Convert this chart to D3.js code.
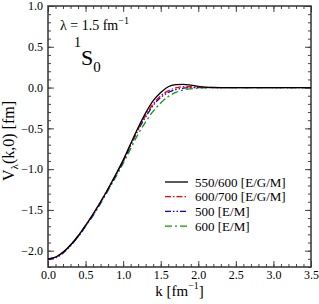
<!DOCTYPE html>
<html>
<head>
<meta charset="utf-8">
<script src="https://cdn.jsdelivr.net/npm/d3@7"></script>
<style>
  body { margin: 0; background: #fff; }
  svg text { font-family: "Liberation Serif", "Times New Roman", "DejaVu Serif", serif; }
</style>
</head>
<body>
<div id="vis"></div>
<script>
const WIDTH = 319;
const HEIGHT = 304;
const MARGIN = {left: 48, right: 8, top: 6, bottom: 37};
const FONT = "Liberation Serif, Times New Roman, DejaVu Serif, serif";

// data
const K = [0.0, 0.1, 0.2, 0.3, 0.4, 0.5, 0.6, 0.7, 0.8, 0.9, 1.0, 1.1, 1.2, 1.3, 1.4,
           1.5, 1.6, 1.7, 1.8, 1.9, 2.0, 2.1, 2.2, 2.3, 2.5, 3.0, 3.5];
const V_550_600 = [-2.10, -2.08, -2.02, -1.93, -1.82, -1.69, -1.55, -1.40, -1.24, -1.07, -0.89,
                   -0.69, -0.49, -0.31, -0.16, -0.06, 0.01, 0.035, 0.04, 0.03, 0.015, 0.006,
                   0.002, 0.0, 0.0, 0.0, 0.0];
const V_600_700 = [-2.10, -2.08, -2.02, -1.93, -1.82, -1.69, -1.55, -1.40, -1.24, -1.07, -0.90,
                   -0.70, -0.51, -0.34, -0.20, -0.10, -0.04, -0.005, 0.01, 0.01, 0.005, 0.002,
                   0.0, 0.0, 0.0, 0.0, 0.0];
const V_500 = [-2.11, -2.09, -2.03, -1.94, -1.83, -1.70, -1.56, -1.41, -1.25, -1.08, -0.91,
               -0.71, -0.52, -0.36, -0.22, -0.12, -0.06, -0.025, -0.008, 0.0, 0.0, 0.0,
               0.0, 0.0, 0.0, 0.0, 0.0];
const V_600 = [-2.10, -2.08, -2.02, -1.93, -1.83, -1.70, -1.57, -1.42, -1.26, -1.10, -0.93,
               -0.75, -0.57, -0.42, -0.29, -0.19, -0.11, -0.06, -0.03, -0.015, -0.006, -0.002,
               0.0, 0.0, 0.0, 0.0, 0.0];

const SERIES = [
  {name: "550/600 [E/G/M]", values: V_550_600, color: "#000000", dash: null},
  {name: "600/700 [E/G/M]", values: V_600_700, color: "#ff0000", dash: "6,2,1.5,2"},
  {name: "500 [E/M]",       values: V_500,     color: "#0000ff", dash: "6,2,1.5,2,1.5,2"},
  {name: "600 [E/M]",       values: V_600,     color: "#00a000", dash: "7,3,2,3"}
];

const X_TICKS = [0.0, 0.5, 1.0, 1.5, 2.0, 2.5, 3.0, 3.5];
const Y_TICKS = [-2.0, -1.5, -1.0, -0.5, 0.0, 0.5, 1.0];

const FRAME = d3.select("#vis")
  .append("svg")
    .attr("width", WIDTH)
    .attr("height", HEIGHT)
    .attr("font-family", FONT);

const X_SCALE = d3.scaleLinear()
  .domain([0, 3.5])
  .range([MARGIN.left, WIDTH - MARGIN.right]);

const Y_SCALE = d3.scaleLinear()
  .domain([-2.2, 1.0])
  .range([HEIGHT - MARGIN.bottom, MARGIN.top]);

const fmt = (d) => d3.format(".1f")(d).replace("-", "\u2212");
const plotW = WIDTH - MARGIN.left - MARGIN.right;
const plotH = HEIGHT - MARGIN.top - MARGIN.bottom;

// minor ticks every 0.1
const xMinor = d3.range(0, 3.501, 0.1);
const yMinor = d3.range(-2.2, 1.001, 0.1);

// axes: ticks pointing inward on all four sides
function addAxis(axis, tx, ty) {
  const g = FRAME.append("g")
    .attr("transform", "translate(" + tx + "," + ty + ")")
    .call(axis)
    .attr("font-family", FONT);
  g.select(".domain").remove();
  g.selectAll("line").attr("stroke", "#444").attr("stroke-width", 1);
  g.selectAll("text")
    .attr("font-family", FONT)
    .attr("font-size", "12px")
    .attr("fill", "#000");
  return g;
}

// bottom
addAxis(d3.axisBottom(X_SCALE).tickValues(xMinor).tickSize(-3).tickFormat(""), 0, HEIGHT - MARGIN.bottom);
addAxis(d3.axisBottom(X_SCALE).tickValues(X_TICKS).tickSize(-6).tickPadding(3).tickFormat(fmt),
        0, HEIGHT - MARGIN.bottom);
// top
addAxis(d3.axisTop(X_SCALE).tickValues(xMinor).tickSize(-3).tickFormat(""), 0, MARGIN.top);
addAxis(d3.axisTop(X_SCALE).tickValues(X_TICKS).tickSize(-6).tickFormat(""), 0, MARGIN.top);
// left
addAxis(d3.axisLeft(Y_SCALE).tickValues(yMinor).tickSize(-3).tickFormat(""), MARGIN.left, 0);
addAxis(d3.axisLeft(Y_SCALE).tickValues(Y_TICKS).tickSize(-6).tickPadding(5).tickFormat(fmt),
        MARGIN.left, 0);
// right
addAxis(d3.axisRight(Y_SCALE).tickValues(yMinor).tickSize(-3).tickFormat(""), WIDTH - MARGIN.right, 0);
addAxis(d3.axisRight(Y_SCALE).tickValues(Y_TICKS).tickSize(-6).tickFormat(""), WIDTH - MARGIN.right, 0);

// frame
FRAME.append("rect")
  .attr("x", MARGIN.left)
  .attr("y", MARGIN.top)
  .attr("width", plotW)
  .attr("height", plotH)
  .attr("fill", "none")
  .attr("stroke", "#333")
  .attr("stroke-width", 1.5);

// curves
const line = d3.line()
  .x((d, i) => X_SCALE(K[i]))
  .y((d) => Y_SCALE(d))
  .curve(d3.curveMonotoneX);

FRAME.append("g")
  .selectAll("path")
  .data(SERIES.slice().reverse())
  .enter()
  .append("path")
    .attr("d", (s) => line(s.values))
    .attr("fill", "none")
    .attr("stroke", (s) => s.color)
    .attr("stroke-width", 1.3)
    .attr("stroke-dasharray", (s) => s.dash);

// legend
const legend = FRAME.append("g")
  .attr("transform", "translate(165,182)");
const rows = legend.selectAll("g")
  .data(SERIES)
  .enter()
  .append("g")
    .attr("transform", (s, i) => "translate(0," + (i * 14.7) + ")");
rows.append("line")
  .attr("x1", 0).attr("x2", 23)
  .attr("stroke", (s) => s.color)
  .attr("stroke-width", 1.3)
  .attr("stroke-dasharray", (s) => s.dash);
rows.append("text")
  .attr("x", 30)
  .attr("dy", "0.35em")
  .attr("font-size", "13px")
  .text((s) => s.name);

// annotations
const lam = FRAME.append("text")
  .attr("x", 60).attr("y", 30)
  .attr("font-size", "14px");
lam.append("tspan").text("\u03bb = 1.5 fm");
lam.append("tspan").attr("dy", -6).attr("font-size", "10px").text("\u22121");

const wave = FRAME.append("text")
  .attr("x", 74).attr("y", 47)
  .attr("font-size", "14px");
wave.append("tspan").text("1");
wave.append("tspan").attr("dy", 18).attr("font-size", "22px").text("S");
wave.append("tspan").attr("dy", 7).attr("font-size", "15px").text("0");

// axis titles
const xt = FRAME.append("text")
  .attr("x", X_SCALE(1.75))
  .attr("y", 296)
  .attr("text-anchor", "middle")
  .attr("font-size", "15px");
xt.append("tspan").text("k [fm");
xt.append("tspan").attr("dy", -7).attr("font-size", "10px").text("\u22121");
xt.append("tspan").attr("dy", 7).text("]");

const yt = FRAME.append("text")
  .attr("transform", "translate(14,141) rotate(-90)")
  .attr("text-anchor", "middle")
  .attr("font-size", "16px");
yt.append("tspan").text("V");
yt.append("tspan").attr("dy", 4).attr("font-size", "11px").text("\u03bb");
yt.append("tspan").attr("dy", -4).text("(k,0) [fm]");
</script>
</body>
</html>
